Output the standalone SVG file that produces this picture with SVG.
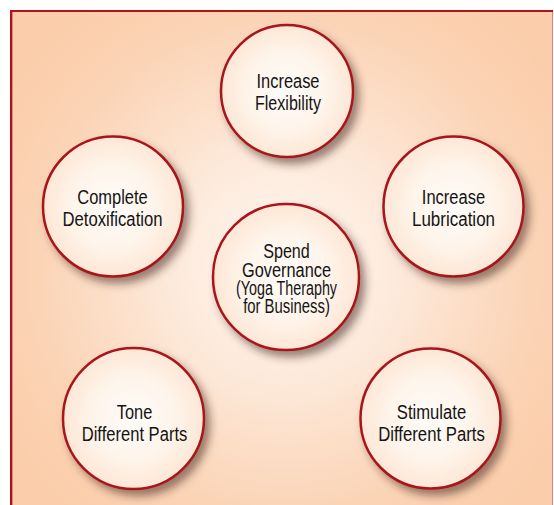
<svg xmlns="http://www.w3.org/2000/svg" width="554" height="505" viewBox="0 0 554 505">
  <defs>
    <radialGradient id="bgGrad" gradientUnits="userSpaceOnUse" cx="285" cy="265" r="330">
      <stop offset="0" stop-color="#fef8f3"/>
      <stop offset="0.35" stop-color="#fde9da"/>
      <stop offset="0.75" stop-color="#fbd4b6"/>
      <stop offset="1" stop-color="#fbcdaa"/>
    </radialGradient>
    <radialGradient id="discGrad" cx="0.5" cy="0.5" r="0.5">
      <stop offset="0" stop-color="#fffcf9"/>
      <stop offset="0.6" stop-color="#fef4ea"/>
      <stop offset="1" stop-color="#fde7d6"/>
    </radialGradient>
    <filter id="shadow" x="-30%" y="-30%" width="170%" height="170%">
      <feDropShadow dx="5" dy="6" stdDeviation="4" flood-color="#4a2c1c" flood-opacity="0.55"/>
    </filter>
  </defs>
  <style>
    .disc { fill: url(#discGrad); stroke: #a8141c; stroke-width: 2.5; filter: url(#shadow); }
    .label { font-family: "Liberation Sans", Arial, sans-serif; font-size: 20px; fill: #141414; text-anchor: middle; }
  </style>

  <!-- framed panel -->
  <g id="panel">
    <rect x="10" y="10" width="543" height="500" fill="url(#bgGrad)"/>
    <line x1="10" y1="11" x2="553" y2="11" stroke="#b0141a" stroke-width="2"/>
    <line x1="11" y1="10" x2="11" y2="505" stroke="#b0141a" stroke-width="2"/>
    <line x1="12.5" y1="12" x2="12.5" y2="505" stroke="#dc8a8a" stroke-width="1"/>
    <line x1="552.5" y1="12" x2="552.5" y2="505" stroke="#d9868a" stroke-width="1"/>
  </g>

  <!-- condensed lettering: each line is squeezed to its set width -->
  <g id="node-flexibility">
    <circle class="disc" cx="287" cy="91" r="66"/>
    <text class="label" x="288" y="87.5" textLength="63" lengthAdjust="spacingAndGlyphs">Increase</text>
    <text class="label" x="288" y="109.5" textLength="66" lengthAdjust="spacingAndGlyphs">Flexibility</text>
  </g>

  <g id="node-detoxification">
    <circle class="disc" cx="113" cy="206.5" r="70"/>
    <text class="label" x="112.5" y="204" textLength="70.5" lengthAdjust="spacingAndGlyphs">Complete</text>
    <text class="label" x="112.5" y="225.5" textLength="100" lengthAdjust="spacingAndGlyphs">Detoxification</text>
  </g>

  <g id="node-lubrication">
    <circle class="disc" cx="453.5" cy="206.5" r="70"/>
    <text class="label" x="453.5" y="204" textLength="63.3" lengthAdjust="spacingAndGlyphs">Increase</text>
    <text class="label" x="453.5" y="225.5" textLength="83" lengthAdjust="spacingAndGlyphs">Lubrication</text>
  </g>

  <g id="node-spend-governance">
    <circle class="disc" cx="286" cy="277" r="73"/>
    <text class="label" x="286.5" y="258" textLength="46.7" lengthAdjust="spacingAndGlyphs">Spend</text>
    <text class="label" x="286.5" y="276.5" textLength="89" lengthAdjust="spacingAndGlyphs">Governance</text>
    <text class="label" x="286.5" y="295" textLength="101" lengthAdjust="spacingAndGlyphs">(Yoga Theraphy</text>
    <text class="label" x="286.5" y="313" textLength="86.7" lengthAdjust="spacingAndGlyphs">for Business)</text>
  </g>

  <g id="node-tone">
    <circle class="disc" cx="133.5" cy="418.5" r="70.5"/>
    <text class="label" x="134.5" y="419" textLength="35.5" lengthAdjust="spacingAndGlyphs">Tone</text>
    <text class="label" x="134.5" y="440.5" textLength="105.6" lengthAdjust="spacingAndGlyphs">Different Parts</text>
  </g>

  <g id="node-stimulate">
    <circle class="disc" cx="430.5" cy="418.5" r="70"/>
    <text class="label" x="431.5" y="419" textLength="69.3" lengthAdjust="spacingAndGlyphs">Stimulate</text>
    <text class="label" x="431.5" y="440.5" textLength="106.5" lengthAdjust="spacingAndGlyphs">Different Parts</text>
  </g>
</svg>
